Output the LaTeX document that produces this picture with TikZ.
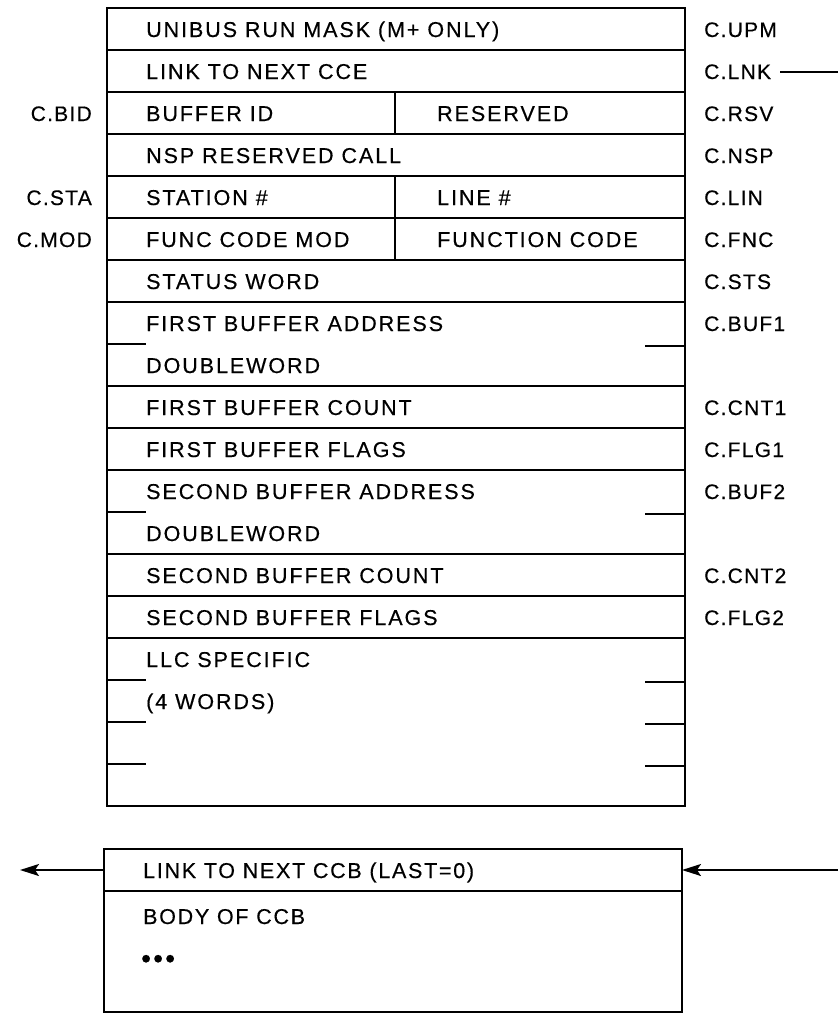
\documentclass[tikz,border=0pt]{standalone}
\usepackage{fontspec}
\newfontfamily\fieldfont{Liberation Sans}[LetterSpace=9,FakeBold=0.4]
\newfontfamily\lblfont{Liberation Sans}[LetterSpace=6,FakeBold=0.4]
\newfontfamily\ccbfont{Liberation Sans}[LetterSpace=8,FakeBold=0.4]
\usetikzlibrary{arrows.meta}
\begin{document}
\begin{tikzpicture}[x=1pt,y=-1pt,
  outer/.style={line width=2.8pt, line join=miter},
  inner/.style={line width=1.9pt},
  field/.style={anchor=base west, inner sep=0pt, font=\fieldfont\fontsize{21.5}{25}\selectfont},
  rlbl/.style={anchor=base west, inner sep=0pt, font=\lblfont\fontsize{21}{25}\selectfont},
  llbl/.style={anchor=base east, inner sep=0pt, font=\lblfont\fontsize{21}{25}\selectfont},
  ccbtext/.style={anchor=base west, inner sep=0pt, font=\ccbfont\fontsize{21.5}{25}\selectfont},
  ccbrow/.style={draw, line width=2.8pt, anchor=north west, minimum width=578pt, inner sep=0pt, outer sep=0pt},
  arr/.style={line width=1.9pt, -{Stealth[length=19pt,width=12pt,inset=4pt]}}
]
\useasboundingbox (0,0) rectangle (838,1015);

% ---- main CCE box ----
\draw[outer] (107,8) rectangle (685,806);
\foreach \i in {1,...,7,9,10,11,13,14,15}
  \draw[inner] (107,{8+42*\i}) -- (685,{8+42*\i});
\foreach \i in {8,12,16,17,18} {
  \draw[inner] (107,{8+42*\i}) -- (146,{8+42*\i});
  \draw[inner] (645,{8+42*\i+2}) -- (685,{8+42*\i+2});
}
\draw[inner] (395,92) -- (395,134);
\draw[inner] (395,176) -- (395,260);

% ---- field texts ----
\node[field] (f0)  at (146,{37+42*0})  {UNIBUS RUN MASK (M+ ONLY)};
\node[field] (f1)  at (146,{37+42*1})  {LINK TO NEXT CCE};
\node[field] (f2a) at (146,{37+42*2})  {BUFFER ID};
\node[field] (f2b) at (437,{37+42*2})  {RESERVED};
\node[field] (f3)  at (146,{37+42*3})  {NSP RESERVED CALL};
\node[field] (f4a) at (146,{37+42*4})  {STATION \#};
\node[field] (f4b) at (437,{37+42*4})  {LINE \#};
\node[field] (f5a) at (146,{37+42*5})  {FUNC CODE MOD};
\node[field] (f5b) at (437,{37+42*5})  {FUNCTION CODE};
\node[field] (f6)  at (146,{37+42*6})  {STATUS WORD};
\node[field] (f7)  at (146,{37+42*7})  {FIRST BUFFER ADDRESS};
\node[field] (f8)  at (146,{37+42*8})  {DOUBLEWORD};
\node[field] (f9)  at (146,{37+42*9})  {FIRST BUFFER COUNT};
\node[field] (f10) at (146,{37+42*10}) {FIRST BUFFER FLAGS};
\node[field] (f11) at (146,{37+42*11}) {SECOND BUFFER ADDRESS};
\node[field] (f12) at (146,{37+42*12}) {DOUBLEWORD};
\node[field] (f13) at (146,{37+42*13}) {SECOND BUFFER COUNT};
\node[field] (f14) at (146,{37+42*14}) {SECOND BUFFER FLAGS};
\node[field] (f15) at (146,{37+42*15}) {LLC SPECIFIC};
\node[field] (f16) at (146,{37+42*16}) {(4 WORDS)};

% ---- right labels ----
\node[rlbl] (cupm)  at (704,{37+42*0})  {C.UPM};
\node[rlbl] (clnk)  at (704,{37+42*1})  {C.LNK};
\node[rlbl] (crsv)  at (704,{37+42*2})  {C.RSV};
\node[rlbl] (cnsp)  at (704,{37+42*3})  {C.NSP};
\node[rlbl] (clin)  at (704,{37+42*4})  {C.LIN};
\node[rlbl] (cfnc)  at (704,{37+42*5})  {C.FNC};
\node[rlbl] (csts)  at (704,{37+42*6})  {C.STS};
\node[rlbl] (cbuf1) at (704,{37+42*7})  {C.BUF1};
\node[rlbl] (ccnt1) at (704,{37+42*9})  {C.CNT1};
\node[rlbl] (cflg1) at (704,{37+42*10}) {C.FLG1};
\node[rlbl] (cbuf2) at (704,{37+42*11}) {C.BUF2};
\node[rlbl] (ccnt2) at (704,{37+42*13}) {C.CNT2};
\node[rlbl] (cflg2) at (704,{37+42*14}) {C.FLG2};

% ---- left labels ----
\node[llbl] (cbid) at (92,{37+42*2}) {C.BID};
\node[llbl] (csta) at (92,{37+42*4}) {C.STA};
\node[llbl] (cmod) at (92,{37+42*5}) {C.MOD};

% link line leaving C.LNK
\coordinate (lnkend) at (838,71);
\draw[inner] ([xshift=9pt]clnk.east) -- (clnk.east -| lnkend);

% ---- CCB box ----
\node[ccbrow, minimum height=42pt]  (ccblink) at (104,849) {};
\node[ccbrow, minimum height=121pt] (ccbbody) at (104,891) {};
\node[ccbtext] (t1) at (143,878) {LINK TO NEXT CCB (LAST=0)};
\node[ccbtext] (t2) at (143,924) {BODY OF CCB};
\node[ccbtext, font=\ccbfont\fontsize{28}{30}\selectfont] (t3) at (141,968) {•••};

\coordinate (leftend) at (20,870);
\coordinate (rightstart) at (838,870);
\draw[arr] (ccblink.west) -- (leftend);
\draw[arr] (rightstart) -- (ccblink.east);
\end{tikzpicture}
\end{document}
